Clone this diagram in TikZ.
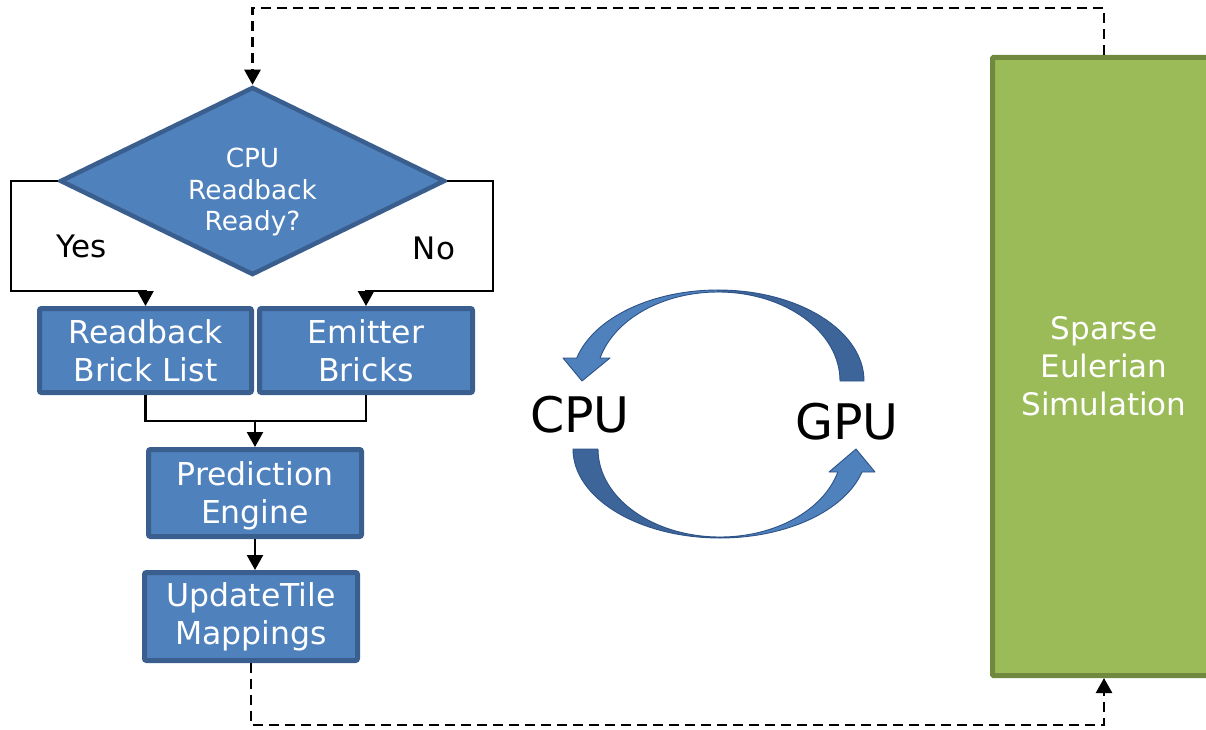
\documentclass[tikz,border=0pt]{standalone}
\usepackage{fontspec}
\setmainfont{DejaVu Sans}
\usetikzlibrary{arrows.meta,shapes.geometric,calc}
\definecolor{boxfill}{HTML}{4F81BD}
\definecolor{boxedge}{HTML}{3A5F8E}
\definecolor{simfill}{HTML}{9BBB59}
\definecolor{simedge}{HTML}{71893F}
\definecolor{cyclight}{HTML}{4F81BD}
\definecolor{cycdark}{HTML}{3D6599}
\definecolor{cycedge}{HTML}{2C5287}
\begin{document}
\begin{tikzpicture}[x=1pt,y=-1pt,
  blk/.style={draw=boxedge, fill=boxfill, line width=5pt, rounded corners=2pt,
    text=white, align=center, inner sep=0pt,
    font=\fontsize{31.5}{38}\selectfont},
  decision/.style={diamond, aspect=2, draw=boxedge, fill=boxfill, line width=4.5pt,
    inner sep=0pt, minimum width=385pt, minimum height=188pt},
  dectext/.style={text=white, align=center, inner sep=0pt,
    font=\fontsize{26.3}{31.5}\selectfont},
  simbox/.style={draw=simedge, fill=simfill, line width=5pt, rounded corners=1pt,
    text=white, align=center, inner sep=0pt,
    minimum width=223pt, minimum height=618pt,
    font=\fontsize{31}{38}\selectfont},
  lbl/.style={inner sep=0pt, font=\fontsize{31}{38}\selectfont},
  biglbl/.style={inner sep=0pt, font=\fontsize{49}{56}\selectfont},
  wire/.style={line width=2.4pt, draw=black},
  conn/.style={wire, -{Triangle[width=16pt,length=15pt]}},
  dashconn/.style={line width=2.6pt, dash pattern=on 10pt off 6pt,
    -{Triangle[width=16pt,length=15pt]}},
  cycpiece/.style={draw=cycedge, line width=0.9pt, line join=round},
]
\useasboundingbox (0,0) rectangle (1206,730);

% flowchart boxes
\node[decision] (dec) at (252.5,181) {};
\node[dectext] (dect) at (252.5,192) {CPU\\Readback\\Ready?};
\node[blk, minimum width=212pt, minimum height=84pt] (rb) at (145.5,350.5) {Readback\\Brick List};
\node[blk, minimum width=213pt, minimum height=84pt] (em) at (366,350.5) {Emitter\\Bricks};
\node[blk, minimum width=213pt, minimum height=87pt, text depth=0pt] (pe) at (255,493) {Prediction\\Engine\rule[-2pt]{0pt}{0pt}};
\node[blk, minimum width=213pt, minimum height=88pt] (upd) at (251,616.5) {UpdateTile\\Mappings};
\node[simbox] (sim) at (1104,366.5) {Sparse\\Eulerian\\Simulation};

% branch labels
\node[lbl] (yes) at (82,246) {Yes};
\node[lbl] (no) at (434,248) {No};

% decision branches
\draw[conn] (dec.west) -- ++(-47,0) |- ($(rb.north)+(0,-15)$) -- (rb.north);
\draw[conn] (dec.east) -- ++(46,0) |- ($(em.north)+(0,-15)$) -- (em.north);

% merge into the prediction engine
\coordinate (join) at ($(pe.north)+(0,-26)$);
\draw[wire] (rb.south) |- (join) -| (em.south);
\draw[conn] (join) -- (pe.north);
\draw[conn] (pe.south) -- (pe.south |- upd.north);

% feedback loops with the simulation
\draw[dashconn] (sim.north) -- ++(0,-47) -| (dec.north);
\draw[dashconn] (upd.south) -- ++(0,62) -| (sim.south);

% CPU / GPU exchange cycle
\node[biglbl] (cpu) at (580,415) {CPU};
\node[biglbl] (gpu) at (847,422) {GPU};

% upper arrow: GPU to CPU
\fill[cycdark, cycpiece] (864,381) arc[start angle=0, end angle=-90, x radius=146, y radius=91]
  -- (718,292) arc[start angle=-90, end angle=0, x radius=122, y radius=89] -- cycle;
\fill[cyclight, cycpiece] (718,290) arc[start angle=-90, end angle=-165.36, x radius=146, y radius=91]
  -- (563,358) -- (582,381) -- (610,358) -- (600.1,358)
  arc[start angle=-165.02, end angle=-90, x radius=122, y radius=89] -- cycle;

% lower arrow: CPU to GPU
\fill[cycdark, cycpiece] (573,449) arc[start angle=180, end angle=90, x radius=147, y radius=89]
  -- (720,537) arc[start angle=90, end angle=180, x radius=122, y radius=88] -- cycle;
\fill[cyclight, cycpiece] (720,538) arc[start angle=90, end angle=14.98, x radius=147, y radius=89]
  -- (875,472) -- (856,449) -- (829,472) -- (837.8,472)
  arc[start angle=15.15, end angle=90, x radius=122, y radius=88] -- cycle;
\end{tikzpicture}
\end{document}
